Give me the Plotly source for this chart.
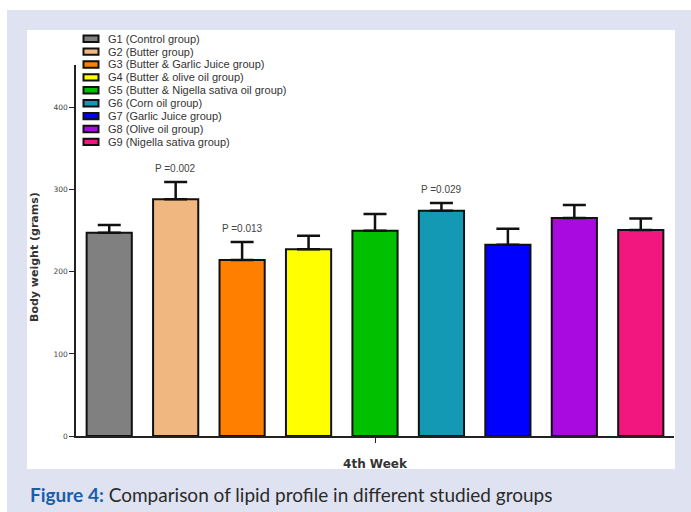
import plotly.graph_objects as go

# ---- data -------------------------------------------------------------
groups = [
    "G1 (Control group)",
    "G2 (Butter group)",
    "G3 (Butter & Garlic Juice group)",
    "G4 (Butter & olive oil group)",
    "G5 (Butter & Nigella sativa oil group)",
    "G6 (Corn oil group)",
    "G7 (Garlic Juice group)",
    "G8 (Olive oil group)",
    "G9 (Nigella sativa group)",
]
colors = ["#808080", "#f1b780", "#ff8000", "#ffff00", "#00c000",
          "#1399b4", "#0000ff", "#a80ae0", "#f2177e"]
mean_weight = [247.5, 288.5, 214.5, 227.5, 250.0, 274.5, 233.0, 265.5, 251.0]
sem_weight = [9.5, 21.0, 22.0, 16.5, 20.5, 9.5, 19.5, 16.0, 14.0]
p_values = {1: "P =0.002", 2: "P =0.013", 5: "P =0.029"}
week_label = "4th Week"
y_ticks = [0, 100, 200, 300, 400]

# ---- page geometry (pixels) -------------------------------------------
W, H = 691, 512
PL, PR, PT, PB = 76, 674, 65, 436


def px_x(x):
    return (x - PL) / (PR - PL)


def px_y(y):
    return (PB - y) / (PB - PT)


positions = list(range(len(groups)))

fig = go.Figure()
fig.add_trace(go.Bar(
    x=positions,
    y=mean_weight,
    width=0.68,
    marker=dict(color=colors, line=dict(color="#111111", width=2)),
    error_y=dict(type="data", array=sem_weight,
                 arrayminus=[0] * len(sem_weight),
                 color="#111111", thickness=2.5, width=11.5),
    showlegend=False,
    hoverinfo="x+y",
))

shapes = []
# lavender page with a white figure panel
shapes.append(dict(type="rect", xref="paper", yref="paper", layer="below",
                   x0=px_x(27), x1=px_x(675), y0=px_y(469), y1=px_y(30),
                   fillcolor="white", line=dict(width=0)))
shapes.append(dict(type="rect", xref="paper", yref="paper", layer="below",
                   x0=px_x(0), x1=px_x(7), y0=px_y(W), y1=px_y(0),
                   fillcolor="white", line=dict(width=0)))
shapes.append(dict(type="rect", xref="paper", yref="paper", layer="below",
                   x0=px_x(0), x1=px_x(W), y0=px_y(10), y1=px_y(-5),
                   fillcolor="white", line=dict(width=0)))

annotations = []

# legend: swatches and labels, stacked in rows
row0, row_step = 38.7, 12.9
for i, (name, col) in enumerate(zip(groups, colors)):
    cy = row0 + row_step * i
    shapes.append(dict(type="rect", xref="paper", yref="paper",
                       x0=px_x(83.5), x1=px_x(98.5),
                       y0=px_y(cy + 3.2), y1=px_y(cy - 3.2),
                       fillcolor=col, line=dict(color="#111111", width=2)))
    annotations.append(dict(text=name, xref="paper", yref="paper",
                            x=px_x(106), y=px_y(cy), xanchor="left",
                            yanchor="middle", showarrow=False,
                            font=dict(family="Liberation Sans", size=11,
                                      color="#333333")))

# significance labels above the error bars
for idx, label in p_values.items():
    annotations.append(dict(text=label, x=positions[idx],
                            y=mean_weight[idx] + sem_weight[idx],
                            xref="x", yref="y", yanchor="bottom",
                            yshift=6, showarrow=False,
                            font=dict(family="Liberation Sans", size=10,
                                      color="#444444")))

# y-axis title
annotations.append(dict(text="Body weight (grams)", xref="paper", yref="paper",
                        x=px_x(34), y=px_y(257), textangle=-90,
                        showarrow=False, xanchor="center", yanchor="middle",
                        font=dict(family="DejaVu Sans", size=11,
                                  color="#333333", weight="bold")))

# figure caption
annotations.append(dict(
    text="<b><span style='color:#1b5ea8'>Figure 4:</span></b>"
         " Comparison of lipid profile in different studied groups",
    xref="paper", yref="paper", x=px_x(28), y=px_y(494),
    xanchor="left", yanchor="middle", showarrow=False,
    font=dict(family="Lato", size=19, color="#2a2a2a")))

fig.update_layout(
    width=W, height=H,
    margin=dict(l=PL, r=W - PR, t=PT, b=H - PB, pad=0),
    paper_bgcolor="#dfe3f1",
    plot_bgcolor="white",
    shapes=shapes,
    annotations=annotations,
    xaxis=dict(range=[-0.5, 8.5], tickvals=[positions[len(positions) // 2]],
               ticktext=[week_label], showline=True, linecolor="#222222",
               linewidth=1.5, ticks="outside", ticklen=5, tickwidth=1.2,
               tickcolor="#222222", showgrid=False, zeroline=False,
               ticklabelstandoff=11,
               tickfont=dict(family="DejaVu Sans", size=12, color="#333333",
                             weight="bold")),
    yaxis=dict(range=[0, 452], tickvals=y_ticks, showline=True,
               linecolor="#222222", linewidth=1.5, ticks="outside",
               ticklen=5, tickwidth=1.2, tickcolor="#222222",
               showgrid=False, zeroline=False,
               tickfont=dict(family="DejaVu Sans", size=7.5, color="#444444")),
    bargap=0.3,
)

fig.write_html("out.html")
